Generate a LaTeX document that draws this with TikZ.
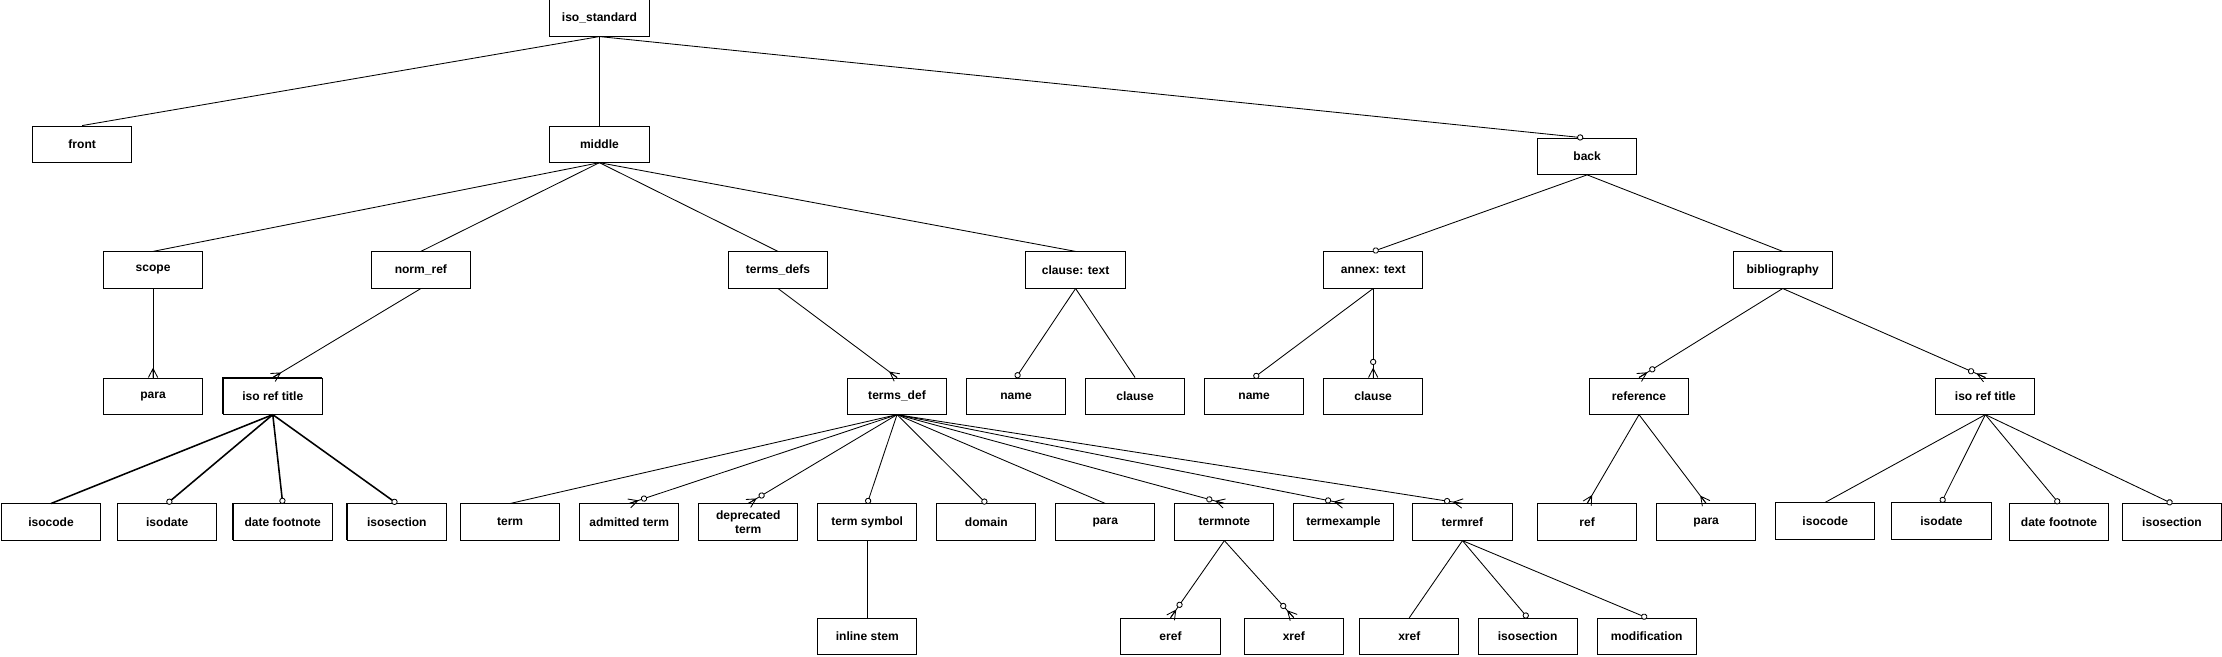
\documentclass[tikz,border=0pt]{standalone}
\usepackage{fontspec}
\setmainfont{Liberation Sans}
\usetikzlibrary{
    positioning,
    decorations.markings,
    shadows
}

\begin{document}
\begin{tikzpicture}[
                x=1pt, y=-1pt,
                block/.style={draw, line width=0.7pt, minimum width=70pt, minimum height=25.5pt, align=center, inner sep=1pt, font=\fontsize{8.5}{10}\selectfont\bfseries},
                dup/.style={fill=white, copy shadow={shadow xshift=-0.6pt, shadow yshift=0.6pt}},
                conn/.style={line width=0.6pt},
                thickconn/.style={line width=1.1pt},
                tomany/.style={postaction={decorate, decoration={markings, mark=at position 1 with {
                    \draw[line width=0.6pt] (-6.3pt,0) -- (0,3.3pt) (-6.3pt,0) -- (0,0) (-6.3pt,0) -- (0,-3.3pt);}}}},
                tozeromany/.style={postaction={decorate, decoration={markings, mark=at position 1 with {
                    \draw[line width=0.6pt] (-6.3pt,0) -- (0,3.3pt) (-6.3pt,0) -- (0,0) (-6.3pt,0) -- (0,-3.3pt);
                    \draw[line width=0.6pt, fill=white] (-11pt,0) circle[radius=1.9pt];}}}},
                tozeroone/.style={postaction={decorate, decoration={markings, mark=at position 1 with {
                    \draw[line width=0.6pt, fill=white] (-1.9pt,0) circle[radius=1.9pt];}}}}
            ]
                \useasboundingbox (0,0) rectangle (1568,463);

                % Root
                \node[block] (isostd) at (423,12.7) {iso\_standard};

                % Top level parts
                \node[block] (front) at (58,101.7) {front};
                \node[block] (middle) at (423,101.7) {middle};
                \node[block] (back) at (1120,110.3) {back};

                % Sections
                \node[block] (scope) at (108,190.5) {scope};
                \node[block] (normref) at (297,190.5) {norm\_ref};
                \node[block] (termsdefs) at (549,190.5) {terms\_defs};
                \node[block] (clausetext) at (759,190.5) {clause: text};
                \node[block] (annextext) at (969,190.5) {annex: text};
                \node[block] (biblio) at (1258,190.5) {bibliography};

                % Third level
                \node[block] (paraA) at (108,279.5) {para};
                \node[block, dup] (isorefA) at (192.5,279.5) {iso ref title};
                \node[block] (termsdef) at (633,279.5) {terms\_def};
                \node[block] (nameA) at (717,279.5) {name};
                \node[block] (clauseA) at (801,279.5) {clause};
                \node[block] (nameB) at (885,279.5) {name};
                \node[block] (clauseB) at (969,279.5) {clause};
                \node[block] (reference) at (1156.6,279.5) {reference};
                \node[block] (isorefB) at (1401,279.5) {iso ref title};

                % Fourth level
                \node[block] (isocodeA) at (36,368.4) {isocode};
                \node[block] (isodateA) at (118,368.4) {isodate};
                \node[block, dup] (datefnA) at (199.5,368.4) {date footnote};
                \node[block, dup] (isosecA) at (280,368.4) {isosection};
                \node[block] (term) at (360,368.4) {term};
                \node[block] (admitted) at (444,368.4) {admitted term};
                \node[block] (deprecated) at (528,368.4) {deprecated\\term};
                \node[block] (termsym) at (612,368.4) {term symbol};
                \node[block] (domain) at (696,368.4) {domain};
                \node[block] (paraB) at (780,368.4) {para};
                \node[block] (termnote) at (864,368.4) {termnote};
                \node[block] (termexample) at (948,368.4) {termexample};
                \node[block] (termref) at (1032,368.4) {termref};
                \node[block] (ref) at (1120,368.4) {ref};
                \node[block] (paraC) at (1204,368.4) {para};
                \node[block] (isocodeB) at (1288,367.6) {isocode};
                \node[block] (isodateB) at (1370,367.6) {isodate};
                \node[block] (datefnB) at (1453,368.4) {date footnote};
                \node[block] (isosecB) at (1532.7,368.4) {isosection};

                % Fifth level
                \node[block] (inlinestem) at (612,449) {inline stem};
                \node[block] (eref) at (826,449) {eref};
                \node[block] (xrefA) at (913,449) {xref};
                \node[block] (xrefB) at (994.5,449) {xref};
                \node[block] (isosecC) at (1078,449) {isosection};
                \node[block] (modification) at (1162,449) {modification};

                % Root links
                \draw[conn] (isostd.south) -- (front.north);
                \draw[conn] (isostd.south) -- (middle.north);
                \draw[conn, tozeroone] (isostd.south) -- ([xshift=-3pt]back.north);

                % Middle links
                \draw[conn] (middle.south) -- (scope.north);
                \draw[conn] (middle.south) -- (normref.north);
                \draw[conn] (middle.south) -- (termsdefs.north);
                \draw[conn] (middle.south) -- (clausetext.north);

                % Back links
                \draw[conn, tozeroone] (back.south) -- (annextext.north);
                \draw[conn] (back.south) -- (biblio.north);

                % Section children
                \draw[conn, tomany] (scope.south) -- (paraA.north);
                \draw[conn, tomany] (normref.south) -- (isorefA.north);
                \draw[conn, tomany] (termsdefs.south) -- (termsdef.north);
                \draw[conn, tozeroone] (clausetext.south) -- (nameA.north);
                \draw[conn] (clausetext.south) -- (clauseA.north);
                \draw[conn, tozeroone] (annextext.south) -- (nameB.north);
                \draw[conn, tozeromany] (annextext.south) -- (clauseB.north);
                \draw[conn, tozeromany] (biblio.south) -- (reference.north);
                \draw[conn, tozeromany] (biblio.south) -- (isorefB.north);

                % iso ref title (norm_ref)
                \draw[thickconn] (isorefA.south) -- (isocodeA.north);
                \draw[thickconn, tozeroone] (isorefA.south) -- (isodateA.north);
                \draw[thickconn, tozeroone] (isorefA.south) -- (datefnA.north);
                \draw[thickconn, tozeroone] (isorefA.south) -- (isosecA.north);

                % terms_def children
                \draw[conn] (termsdef.south) -- (term.north);
                \draw[conn, tozeromany] (termsdef.south) -- (admitted.north);
                \draw[conn, tozeromany] (termsdef.south) -- (deprecated.north);
                \draw[conn, tozeroone] (termsdef.south) -- (termsym.north);
                \draw[conn, tozeroone] (termsdef.south) -- (domain.north);
                \draw[conn] (termsdef.south) -- (paraB.north);
                \draw[conn, tozeromany] (termsdef.south) -- (termnote.north);
                \draw[conn, tozeromany] (termsdef.south) -- (termexample.north);
                \draw[conn, tozeromany] (termsdef.south) -- (termref.north);

                % reference and iso ref title (bibliography)
                \draw[conn, tomany] (reference.south) -- (ref.north);
                \draw[conn, tomany] (reference.south) -- (paraC.north);
                \draw[conn] (isorefB.south) -- (isocodeB.north);
                \draw[conn, tozeroone] (isorefB.south) -- (isodateB.north);
                \draw[conn, tozeroone] (isorefB.south) -- (datefnB.north);
                \draw[conn, tozeroone] (isorefB.south) -- (isosecB.north);

                % Bottom level
                \draw[conn] (termsym.south) -- (inlinestem.north);
                \draw[conn, tozeromany] (termnote.south) -- (eref.north);
                \draw[conn, tozeromany] (termnote.south) -- (xrefA.north);
                \draw[conn] (termref.south) -- (xrefB.north);
                \draw[conn, tozeroone] (termref.south) -- (isosecC.north);
                \draw[conn, tozeroone] (termref.south) -- (modification.north);
            \end{tikzpicture}
\end{document}
